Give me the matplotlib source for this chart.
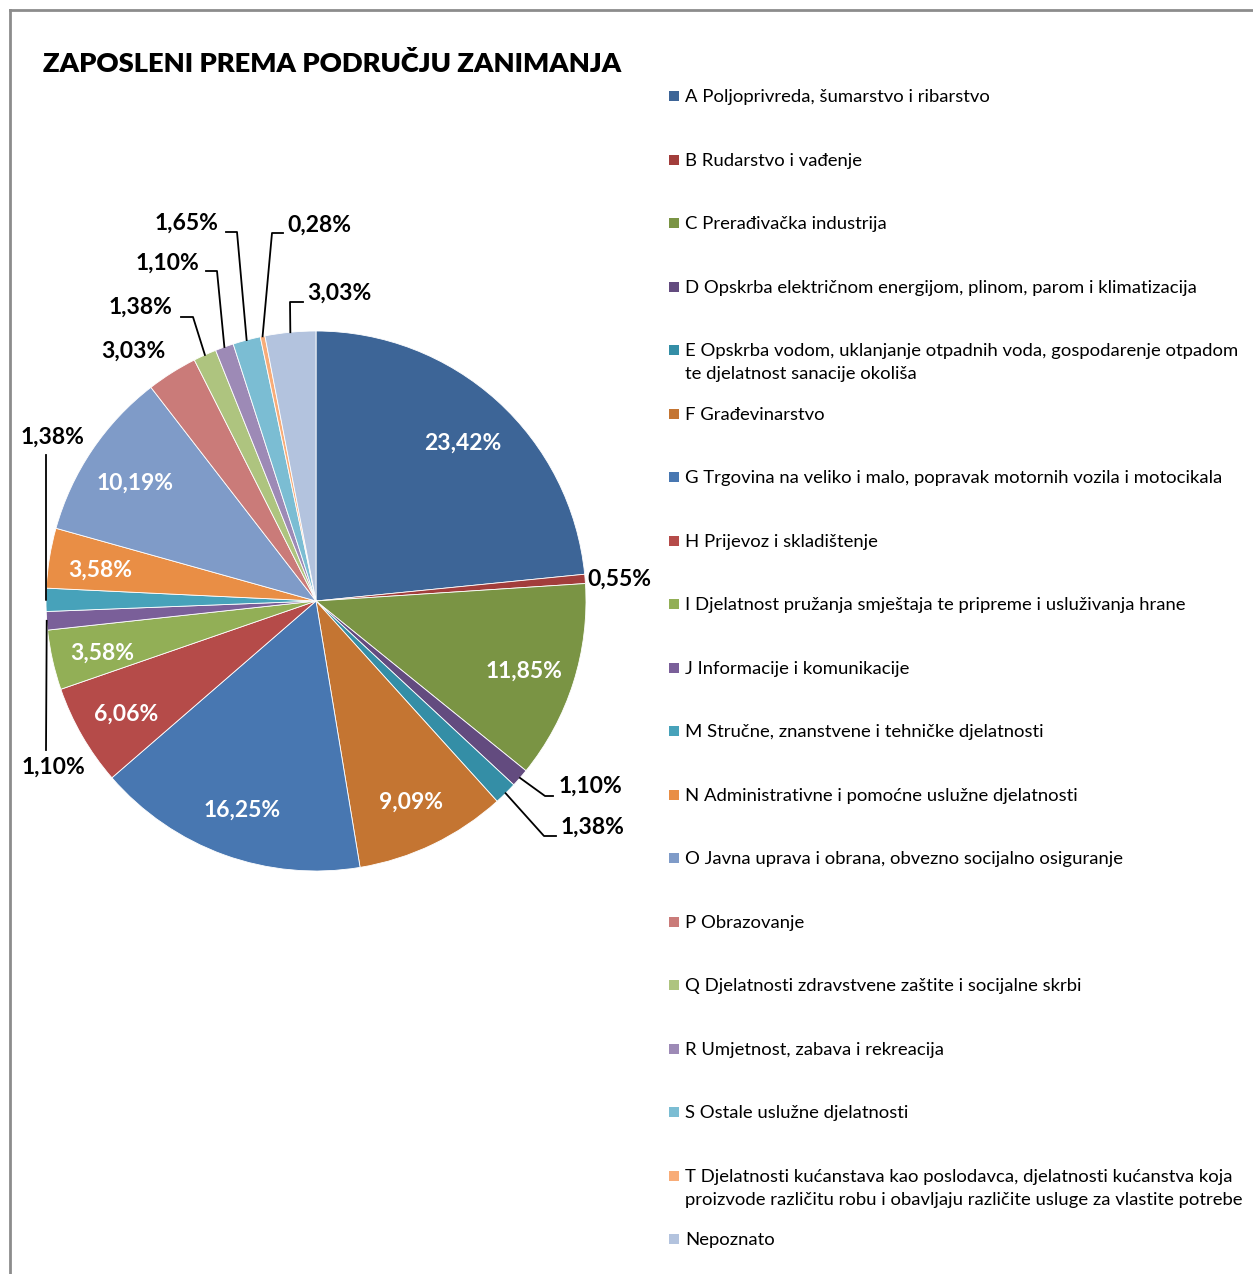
import numpy as np
import matplotlib.pyplot as plt
from matplotlib.patches import Rectangle

plt.rcParams['font.family'] = ['Lato', 'DejaVu Sans']

## data
categories = [
    "A Poljoprivreda, šumarstvo i ribarstvo",
    "B Rudarstvo i vađenje",
    "C Prerađivačka industrija",
    "D Opskrba električnom energijom, plinom, parom i klimatizacija",
    "E Opskrba vodom, uklanjanje otpadnih voda, gospodarenje otpadom\nte djelatnost sanacije okoliša",
    "F Građevinarstvo",
    "G Trgovina na veliko i malo, popravak motornih vozila i motocikala",
    "H Prijevoz i skladištenje",
    "I Djelatnost pružanja smještaja te pripreme i usluživanja hrane",
    "J Informacije i komunikacije",
    "M Stručne, znanstvene i tehničke djelatnosti",
    "N Administrativne i pomoćne uslužne djelatnosti",
    "O Javna uprava i obrana, obvezno socijalno osiguranje",
    "P Obrazovanje",
    "Q Djelatnosti zdravstvene zaštite i socijalne skrbi",
    "R Umjetnost, zabava i rekreacija",
    "S Ostale uslužne djelatnosti",
    "T Djelatnosti kućanstava kao poslodavca, djelatnosti kućanstva koja\nproizvode različitu robu i obavljaju različite usluge za vlastite potrebe",
    "Nepoznato",
]
shares = [23.42, 0.55, 11.85, 1.10, 1.38, 9.09, 16.25, 6.06, 3.58, 1.10,
          1.38, 3.58, 10.19, 3.03, 1.38, 1.10, 1.65, 0.28, 3.03]
colors = ["#3D6597", "#A23D3B", "#7A9444", "#634B7F", "#348EA6", "#C47532",
          "#4877B1", "#B54B49", "#92AF56", "#7A5F99", "#47A2BA", "#E98E45",
          "#7F9BC8", "#CA7B79", "#AEC47F", "#9D8AB6", "#7BBDD3", "#F8AC78",
          "#B3C3DE"]
title = "ZAPOSLENI PREMA PODRUČJU ZANIMANJA"

# slices whose label sits inside (white) vs outside (black)
inside = {0, 2, 5, 6, 7, 8, 11, 12}

## layout (pixel coordinates, y measured from the top)
W, H = 1253, 1274
cx, cy, R = 316, 601, 270

# outside labels: text centre and leader path (after the wedge edge point)
outside = {
    1: ((619, 579), []),
    3: ((590, 786), [(545, 796), (553, 796)]),
    4: ((593, 827), [(544, 836), (556, 836)]),
    9: ((53, 767), [(46, 750)]),
    10: ((53, 437), [(46, 455)]),
    13: ((133, 351), []),
    14: ((140, 307), [(193, 317), (181, 317)]),
    15: ((167, 263), [(217, 271), (206, 271)]),
    16: ((187, 223), [(237, 232), (226, 232)]),
    17: ((319, 225), [(272, 233), (283, 233)]),
    18: ((339, 293), [(290, 302), (303, 302)]),
}


def fy(y):
    return H - y


fig = plt.figure(figsize=(W / 100, H / 100), dpi=100)
ax = fig.add_axes([0, 0, 1, 1])

ax.pie(shares, colors=colors, startangle=90, counterclock=False,
       center=(cx, fy(cy)), radius=R,
       wedgeprops=dict(linewidth=0.6, edgecolor="white"))
ax.set_xlim(0, W)
ax.set_ylim(0, H)
ax.set_aspect("auto")
ax.axis("off")

# chart border (top and left)
ax.plot([10, W], [fy(10), fy(10)], color="#8c8c8c", lw=2)
ax.plot([10, 10], [fy(10), 0], color="#8c8c8c", lw=2)

ax.text(43, fy(64), title, fontsize=19.7, fontweight="heavy", va="center", ha="left")

## data labels
cum = np.cumsum([0] + shares[:-1])
for i, v in enumerate(shares):
    lab = f"{v:.2f}".replace(".", ",") + "%"
    mid = np.deg2rad(90 - (cum[i] + v / 2) * 3.6)
    if i in inside:
        x = cx + 0.81 * R * np.cos(mid)
        y = cy - 0.81 * R * np.sin(mid)
        ax.text(x, fy(y) - 4, lab, color="white", fontsize=16.5, fontweight="bold",
                ha="center", va="center")
    else:
        (tx, ty), path = outside[i]
        ax.text(tx, fy(ty), lab, color="black", fontsize=16.5, fontweight="bold",
                ha="center", va="center")
        if path:
            ex = cx + R * np.cos(mid)
            ey = cy - R * np.sin(mid)
            pts = [(ex, ey)] + path
            ax.plot([p[0] for p in pts], [fy(p[1]) for p in pts],
                    color="black", lw=1.3)

## legend
legend_y = [96, 160, 223, 287, 350, 414, 477, 541, 604, 668, 731, 795, 858,
            922, 985, 1049, 1112, 1176, 1239]
for name, c, ly in zip(categories, colors, legend_y):
    ax.add_patch(Rectangle((669, fy(ly) - 5), 10, 10, facecolor=c, edgecolor="none"))
    ax.text(685, fy(ly) + 7, name, fontsize=13.3, ha="left", va="top",
            linespacing=1.55)

fig.savefig("out.png", dpi=100)
